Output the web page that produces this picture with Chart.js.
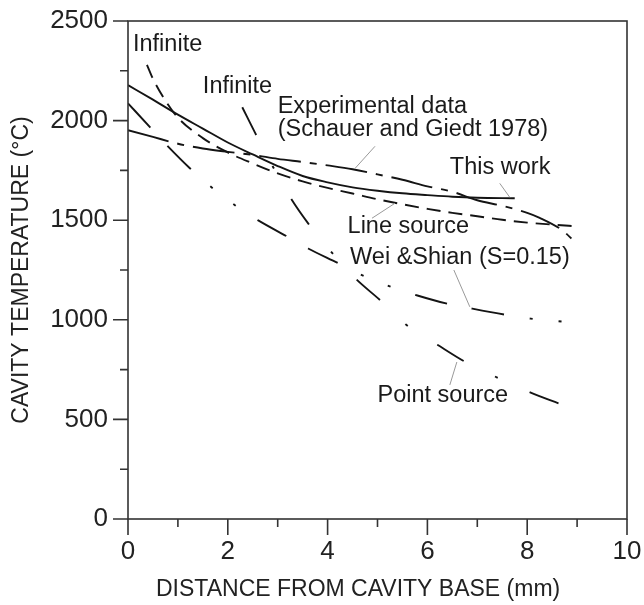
<!DOCTYPE html>
<html>
<head>
<meta charset="utf-8">
<script src="https://cdn.jsdelivr.net/npm/chart.js@4.4.0/dist/chart.umd.min.js"></script>
<style>
html, body { margin: 0; padding: 0; background: #fff; }
</style>
</head>
<body>
<canvas id="chart" width="644" height="605"></canvas>
<script>
// Values (x in mm, T in degC)
const thisWorkX = [0, 0.5, 1, 1.5, 2, 2.5, 3, 3.5, 4, 4.5, 5, 5.5, 6, 6.5, 7, 7.75];
const thisWorkT = [2178, 2105, 2030, 1960, 1890, 1830, 1772, 1722, 1690, 1665, 1648, 1635, 1626, 1618, 1613, 1610];

const experimentX = [0, 0.5, 1, 1.5, 2, 2.5, 3, 3.5, 4, 4.5, 5, 5.5, 6, 6.5, 7, 7.5, 8, 8.25, 8.7, 8.95];
const experimentT = [1952, 1918, 1884, 1860, 1843, 1828, 1808, 1792, 1775, 1756, 1730, 1703, 1670, 1643, 1600, 1572, 1537, 1512, 1450, 1393];

const lineSourceX = [0.38, 0.5, 0.75, 1, 1.5, 2, 2.5, 3, 3.5, 4, 4.5, 5, 5.5, 6, 6.5, 7, 7.5, 8, 8.5, 9];
const lineSourceT = [2280, 2210, 2100, 2015, 1912, 1840, 1785, 1735, 1695, 1662, 1634, 1605, 1580, 1557, 1537, 1520, 1502, 1488, 1478, 1469];

const weiShianX = [0, 0.44, 0.78, 1.24, 1.65, 2.15, 2.61, 3.19, 3.61, 4.22, 4.66, 5.26, 5.8, 6.4, 6.9, 7.55, 8.07, 8.71];
const weiShianT = [2087, 1967, 1876, 1761, 1670, 1574, 1499, 1418, 1358, 1283, 1227, 1167, 1122, 1081, 1056, 1026, 1006, 991];

const pointSourceX = [2.29, 2.55, 2.89, 3.25, 3.61, 4.06, 4.56, 5.06, 5.57, 6.2, 6.75, 7.4, 8.07, 8.65];
const pointSourceT = [2067, 1937, 1775, 1615, 1484, 1345, 1207, 1097, 976, 875, 790, 710, 634, 578];

const xTicks = [0, 2, 4, 6, 8, 10];
const yTicks = [0, 500, 1000, 1500, 2000, 2500];

const xTitle = 'DISTANCE FROM CAVITY BASE (mm)';
const yTitle = 'CAVITY TEMPERATURE (°C)';

// Curve labels and their leader lines, in data coordinates
const labels = [
    { text: 'Infinite', x: 0.1, y: 2380 },
    { text: 'Infinite', x: 1.5, y: 2169 },
    { text: 'Experimental data', x: 3.0, y: 2073 },
    { text: '(Schauer and Giedt 1978)', x: 3.0, y: 1953 },
    { text: 'This work', x: 6.45, y: 1762 },
    { text: 'Line source', x: 4.4, y: 1466 },
    { text: 'Wei &Shian (S=0.15)', x: 4.45, y: 1315 },
    { text: 'Point source', x: 5.0, y: 622 }
];
const leaders = [
    [4.95, 1871, 4.55, 1760],
    [7.45, 1685, 7.65, 1615],
    [4.89, 1510, 5.35, 1585],
    [6.53, 1250, 6.85, 1065],
    [6.59, 788, 6.45, 673]
];

Chart.defaults.font.family = '"Liberation Sans", Arial, Helvetica, sans-serif';
Chart.defaults.color = '#222';

function toPoints(xs, ys) {
    return xs.map((x, i) => ({ x: x, y: ys[i] }));
}

function curve(label, xs, ys, dash) {
    return {
        label: label,
        data: toPoints(xs, ys),
        borderColor: '#141414',
        borderWidth: 1.9,
        borderDash: dash,
        pointRadius: 0,
        fill: false,
        cubicInterpolationMode: 'monotone'
    };
}

// Frame, tick marks, x title, labels and leader lines
const decorations = {
    id: 'decorations',
    afterDraw(chart) {
        const ctx = chart.ctx;
        const area = chart.chartArea;
        const xs = chart.scales.x;
        const ys = chart.scales.y;
        ctx.save();

        ctx.strokeStyle = '#333';
        ctx.lineWidth = 1.6;
        ctx.strokeRect(area.left, area.top, area.right - area.left, area.bottom - area.top);

        ctx.beginPath();
        for (let v = 0; v <= 2500; v += 250) {
            const py = ys.getPixelForValue(v);
            const len = yTicks.includes(v) ? 15 : 8;
            ctx.moveTo(area.left - len, py);
            ctx.lineTo(area.left, py);
        }
        for (let v = 0; v <= 10; v += 1) {
            const px = xs.getPixelForValue(v);
            const len = xTicks.includes(v) ? 16 : 8;
            ctx.moveTo(px, area.bottom);
            ctx.lineTo(px, area.bottom + len);
        }
        ctx.stroke();

        // x title sits a little left of the axis centre in the original
        ctx.fillStyle = '#222';
        ctx.font = '23px "Liberation Sans", Arial, sans-serif';
        ctx.textAlign = 'left';
        ctx.textBaseline = 'middle';
        ctx.fillText(xTitle, area.left + 28, 590);

        ctx.strokeStyle = '#999';
        ctx.lineWidth = 1;
        ctx.beginPath();
        leaders.forEach(l => {
            ctx.moveTo(xs.getPixelForValue(l[0]), ys.getPixelForValue(l[1]));
            ctx.lineTo(xs.getPixelForValue(l[2]), ys.getPixelForValue(l[3]));
        });
        ctx.stroke();

        ctx.fillStyle = '#1a1a1a';
        ctx.font = '23.5px "Liberation Sans", Arial, sans-serif';
        labels.forEach(l => {
            ctx.fillText(l.text, xs.getPixelForValue(l.x), ys.getPixelForValue(l.y));
        });
        ctx.restore();
    }
};

new Chart(document.getElementById('chart'), {
    type: 'line',
    data: {
        datasets: [
            curve('This work', thisWorkX, thisWorkT, []),
            curve('Experimental data', experimentX, experimentT, [42, 9, 7, 9]),
            curve('Line source', lineSourceX, lineSourceT, [14, 8]),
            curve('Wei & Shian', weiShianX, weiShianT, [33, 25, 33, 26, 3, 26, 3, 26]),
            curve('Point source', pointSourceX, pointSourceT, [31, 35, 3, 35])
        ]
    },
    options: {
        responsive: false,
        animation: false,
        layout: { padding: { top: 21, right: 17, bottom: 0, left: 0 } },
        scales: {
            x: {
                type: 'linear',
                min: 0,
                max: 10,
                afterFit: scale => {
                    scale.height = 86;
                    scale.paddingLeft = 0;
                    scale.paddingRight = 0;
                },
                afterBuildTicks: scale => { scale.ticks = xTicks.map(v => ({ value: v })); },
                ticks: { font: { size: 26 }, color: '#222', padding: 17, callback: v => String(v) },
                grid: { display: false, drawTicks: false },
                border: { display: false },
                title: { display: false }
            },
            y: {
                min: 0,
                max: 2500,
                afterFit: scale => {
                    scale.width = 128;
                    scale.paddingTop = 0;
                    scale.paddingBottom = 0;
                },
                afterBuildTicks: scale => { scale.ticks = yTicks.map(v => ({ value: v })); },
                ticks: { font: { size: 26 }, color: '#222', padding: 20, callback: v => String(v) },
                grid: { display: false, drawTicks: false },
                border: { display: false },
                title: {
                    display: true,
                    text: yTitle,
                    font: { size: 23 },
                    color: '#222',
                    padding: { top: 8, bottom: 0 }
                }
            }
        },
        plugins: {
            legend: { display: false },
            tooltip: { enabled: false }
        }
    },
    plugins: [decorations]
});
</script>
</body>
</html>
